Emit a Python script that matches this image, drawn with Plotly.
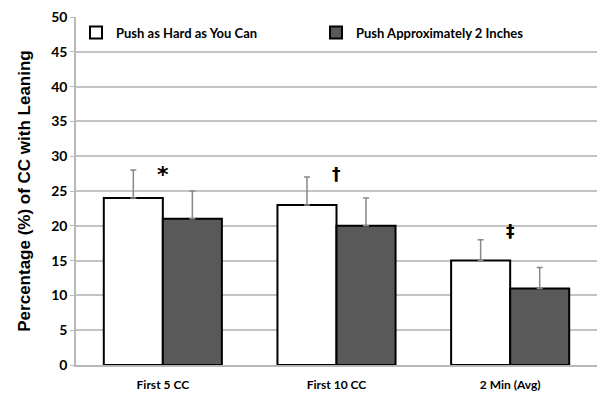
import plotly.graph_objects as go

categories = ["First 5 CC", "First 10 CC", "2 Min (Avg)"]
hard_values = [24, 23, 15]
hard_err = [4, 4, 3]
approx_values = [21, 20, 11]
approx_err = [4, 4, 3]
marks = ["*", "†", "‡"]
mark_y = [28.0, 27.4, 19.3]

fnt = "Lato"

fig = go.Figure()
fig.add_trace(go.Bar(
    x=categories, y=hard_values, name="Push as Hard as You Can",
    marker=dict(color="white", line=dict(color="black", width=2)),
    error_y=dict(type="data", array=hard_err, symmetric=False, arrayminus=[0, 0, 0],
                 color="#888888", thickness=1.5, width=3),
))
fig.add_trace(go.Bar(
    x=categories, y=approx_values, name="Push Approximately 2 Inches",
    marker=dict(color="#595959", line=dict(color="black", width=2)),
    error_y=dict(type="data", array=approx_err, symmetric=False, arrayminus=[0, 0, 0],
                 color="#888888", thickness=1.5, width=3),
))

# significance markers
for cat, m, yv in zip(categories, marks, mark_y):
    fig.add_annotation(x=cat, y=yv, text=m, showarrow=False, yanchor="middle",
                       yshift=-4 if m == "*" else 0,
                       font=dict(family="DejaVu Sans", size=22 if m == "*" else 17,
                                 color="black", weight="bold"))

fig.update_layout(
    width=605, height=400,
    margin=dict(l=76, r=8, t=12, b=34),
    paper_bgcolor="white", plot_bgcolor="white",
    barmode="group", bargap=0.32, bargroupgap=0,
    font=dict(family=fnt, color="black"),
    showlegend=True,
    legend=dict(orientation="h", x=0.0, y=0.955, xanchor="left", yanchor="middle",
                bgcolor="rgba(0,0,0,0)", font=dict(size=13, weight="bold"),
                entrywidth=195, entrywidthmode="pixels", itemsizing="constant"),
)
fig.update_xaxes(
    showline=True, linecolor="#b8b8b8", linewidth=1.5,
    tickfont=dict(size=12, weight="bold"), ticks="", ticklabelstandoff=8,
)
fig.update_yaxes(
    range=[0, 50], dtick=5, showgrid=True, gridcolor="#c4c4c4", gridwidth=1.5,
    showline=True, linecolor="#b8b8b8", linewidth=1.5,
    ticks="outside", ticklen=4, tickcolor="#b8b8b8",
    tickfont=dict(size=14, weight="bold"),
    title=dict(text="Percentage (%) of CC with Leaning",
               font=dict(family="Liberation Sans", size=17, weight="bold"),
               standoff=16),
    zeroline=False,
)

fig.write_html("out.html", config={"displayModeBar": False},
               post_script="document.body.style.margin='0';")
